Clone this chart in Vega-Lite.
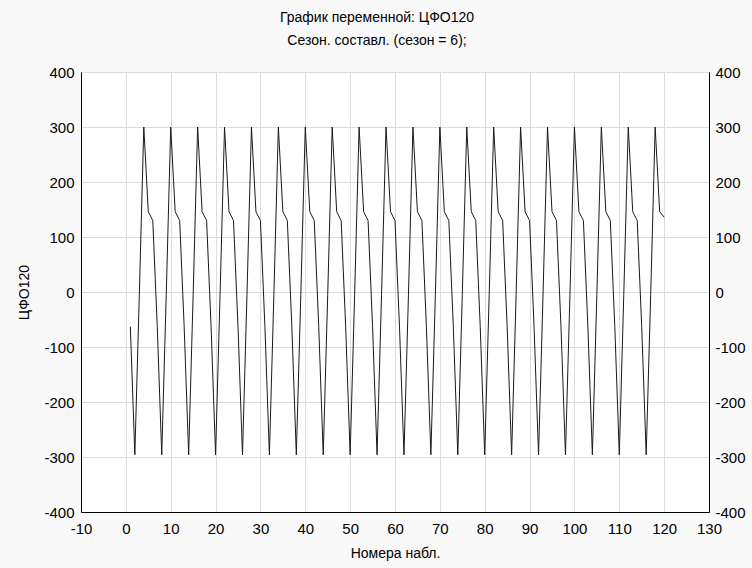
{
  "$schema": "https://vega.github.io/schema/vega-lite/v6.json",
  "autosize": "none",
  "width": 628,
  "height": 440,
  "padding": {"left": 81, "top": 72, "right": 43, "bottom": 56},
  "background": "#f9f9f9",
  "title": {
    "text": ["График переменной: ЦФО120", "Сезон. составл. (сезон = 6);"],
    "font": "Liberation Sans",
    "fontSize": 14,
    "fontWeight": "normal",
    "color": "#000000",
    "lineHeight": 23,
    "anchor": "middle",
    "dx": -18,
    "offset": 17
  },
  "config": {
    "view": {"stroke": "#000000", "strokeWidth": 1, "fill": "#ffffff"},
    "axis": {
      "labelFont": "Liberation Sans",
      "labelFontSize": 15,
      "labelColor": "#000000",
      "titleFont": "Liberation Sans",
      "titleFontSize": 14,
      "titleFontWeight": "normal",
      "titleColor": "#000000",
      "domainColor": "#000000",
      "gridColor": "#dcdcdc",
      "ticks": false,
      "labelExpr": "toString(datum.value)"
    }
  },
  "data": {
    "values": [
      {"n": 1, "v": -63}, {"n": 2, "v": -296}, {"n": 3, "v": -5}, {"n": 4, "v": 300}, {"n": 5, "v": 146}, {"n": 6, "v": 130},
      {"n": 7, "v": -63}, {"n": 8, "v": -296}, {"n": 9, "v": -5}, {"n": 10, "v": 300}, {"n": 11, "v": 146}, {"n": 12, "v": 130},
      {"n": 13, "v": -63}, {"n": 14, "v": -296}, {"n": 15, "v": -5}, {"n": 16, "v": 300}, {"n": 17, "v": 146}, {"n": 18, "v": 130},
      {"n": 19, "v": -63}, {"n": 20, "v": -296}, {"n": 21, "v": -5}, {"n": 22, "v": 300}, {"n": 23, "v": 146}, {"n": 24, "v": 130},
      {"n": 25, "v": -63}, {"n": 26, "v": -296}, {"n": 27, "v": -5}, {"n": 28, "v": 300}, {"n": 29, "v": 146}, {"n": 30, "v": 130},
      {"n": 31, "v": -63}, {"n": 32, "v": -296}, {"n": 33, "v": -5}, {"n": 34, "v": 300}, {"n": 35, "v": 146}, {"n": 36, "v": 130},
      {"n": 37, "v": -63}, {"n": 38, "v": -296}, {"n": 39, "v": -5}, {"n": 40, "v": 300}, {"n": 41, "v": 146}, {"n": 42, "v": 130},
      {"n": 43, "v": -63}, {"n": 44, "v": -296}, {"n": 45, "v": -5}, {"n": 46, "v": 300}, {"n": 47, "v": 146}, {"n": 48, "v": 130},
      {"n": 49, "v": -63}, {"n": 50, "v": -296}, {"n": 51, "v": -5}, {"n": 52, "v": 300}, {"n": 53, "v": 146}, {"n": 54, "v": 130},
      {"n": 55, "v": -63}, {"n": 56, "v": -296}, {"n": 57, "v": -5}, {"n": 58, "v": 300}, {"n": 59, "v": 146}, {"n": 60, "v": 130},
      {"n": 61, "v": -63}, {"n": 62, "v": -296}, {"n": 63, "v": -5}, {"n": 64, "v": 300}, {"n": 65, "v": 146}, {"n": 66, "v": 130},
      {"n": 67, "v": -63}, {"n": 68, "v": -296}, {"n": 69, "v": -5}, {"n": 70, "v": 300}, {"n": 71, "v": 146}, {"n": 72, "v": 130},
      {"n": 73, "v": -63}, {"n": 74, "v": -296}, {"n": 75, "v": -5}, {"n": 76, "v": 300}, {"n": 77, "v": 146}, {"n": 78, "v": 130},
      {"n": 79, "v": -63}, {"n": 80, "v": -296}, {"n": 81, "v": -5}, {"n": 82, "v": 300}, {"n": 83, "v": 146}, {"n": 84, "v": 130},
      {"n": 85, "v": -63}, {"n": 86, "v": -296}, {"n": 87, "v": -5}, {"n": 88, "v": 300}, {"n": 89, "v": 146}, {"n": 90, "v": 130},
      {"n": 91, "v": -63}, {"n": 92, "v": -296}, {"n": 93, "v": -5}, {"n": 94, "v": 300}, {"n": 95, "v": 146}, {"n": 96, "v": 130},
      {"n": 97, "v": -63}, {"n": 98, "v": -296}, {"n": 99, "v": -5}, {"n": 100, "v": 300}, {"n": 101, "v": 146}, {"n": 102, "v": 130},
      {"n": 103, "v": -63}, {"n": 104, "v": -296}, {"n": 105, "v": -5}, {"n": 106, "v": 300}, {"n": 107, "v": 146}, {"n": 108, "v": 130},
      {"n": 109, "v": -63}, {"n": 110, "v": -296}, {"n": 111, "v": -5}, {"n": 112, "v": 300}, {"n": 113, "v": 146}, {"n": 114, "v": 130},
      {"n": 115, "v": -63}, {"n": 116, "v": -296}, {"n": 117, "v": -5}, {"n": 118, "v": 300}, {"n": 119, "v": 146}, {"n": 120, "v": 136}
    ]
  },
  "layer": [
    {
      "mark": {"type": "line", "color": "#1a1a1a", "strokeWidth": 1, "clip": true},
      "encoding": {
        "x": {
          "field": "n",
          "type": "quantitative",
          "scale": {"domain": [-10, 130], "nice": false, "zero": false},
          "axis": {"values": [-10, 0, 10, 20, 30, 40, 50, 60, 70, 80, 90, 100, 110, 120, 130], "title": "Номера набл.", "labelPadding": 9, "titlePadding": 10, "labelFlush": false}
        },
        "y": {
          "field": "v",
          "type": "quantitative",
          "scale": {"domain": [-400, 400], "nice": false},
          "axis": {"values": [-400, -300, -200, -100, 0, 100, 200, 300, 400], "title": "ЦФО120", "labelPadding": 7, "titlePadding": 12, "labelFlush": false}
        }
      }
    },
    {
      "mark": {"type": "line", "opacity": 0},
      "encoding": {
        "x": {"field": "n", "type": "quantitative", "scale": {"domain": [-10, 130], "nice": false, "zero": false}},
        "y": {
          "field": "v",
          "type": "quantitative",
          "scale": {"domain": [-400, 400], "nice": false},
          "axis": {"orient": "right", "values": [-400, -300, -200, -100, 0, 100, 200, 300, 400], "title": null, "grid": false, "labelPadding": 6, "labelFlush": false}
        }
      }
    }
  ],
  "resolve": {"scale": {"y": "independent"}}
}
